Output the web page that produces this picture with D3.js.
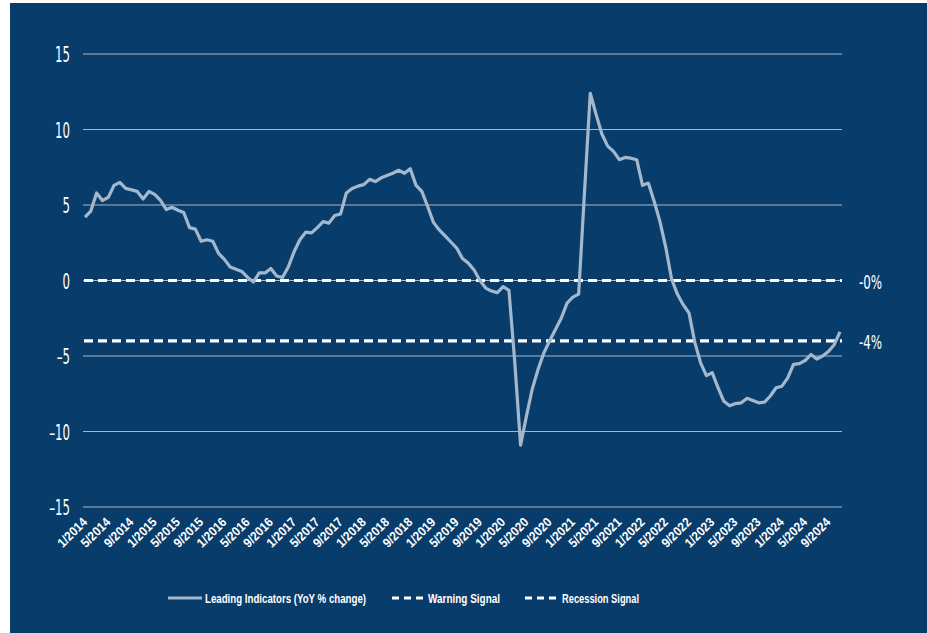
<!DOCTYPE html>
<html>
<head>
<meta charset="utf-8">
<script src="https://cdn.jsdelivr.net/npm/d3@7"></script>
<style>
  body { margin: 0; background: #fff; }
</style>
</head>
<body>
<script>
  // Leading indicators, year on year % change, monthly 1/2014 .. 11/2024
  var leading = [
    4.2, 4.6, 5.8, 5.3, 5.5, 6.3, 6.5, 6.1, 6.0, 5.9, 5.4, 5.9,
    5.7, 5.3, 4.7, 4.85, 4.65, 4.5, 3.5, 3.4, 2.6, 2.7, 2.6, 1.8,
    1.4, 0.9, 0.75, 0.6, 0.2, -0.1, 0.5, 0.5, 0.8, 0.3, 0.2, 0.9,
    1.9, 2.7, 3.2, 3.15, 3.5, 3.9, 3.8, 4.3, 4.4, 5.8, 6.1, 6.25,
    6.35, 6.7, 6.55, 6.8, 6.95, 7.1, 7.3, 7.1, 7.4, 6.3, 5.9, 4.9,
    3.85, 3.35, 2.95, 2.55, 2.15, 1.45, 1.15, 0.7, 0.0, -0.5, -0.7, -0.8,
    -0.4, -0.65, -5.4, -10.9, -9.0, -7.2, -5.9, -4.8, -4.0, -3.25, -2.5, -1.5,
    -1.1, -0.9, 5.8, 12.4, 11.0, 9.7, 8.9, 8.55, 8.0, 8.15, 8.1, 8.0,
    6.3, 6.45, 5.25, 3.9, 2.2, 0.1, -0.9, -1.6, -2.15, -4.1, -5.45, -6.3,
    -6.1, -7.1, -8.0, -8.3, -8.15, -8.1, -7.8, -7.95, -8.1, -8.05, -7.65, -7.1,
    -7.0, -6.45, -5.55, -5.5, -5.3, -4.9, -5.2, -5.0, -4.7, -4.25, -3.4
  ];
  var warning = 0;
  var recession = -4;
  var yTicks = [-15, -10, -5, 0, 5, 10, 15];
  var signalLabels = ["-0%", "-4%"];
  var legendNames = ["Leading Indicators (YoY % change)", "Warning Signal", "Recession Signal"];

  var months = leading.map(function(d, i) {
    return ((i % 12) + 1) + "/" + (2014 + Math.floor(i / 12));
  });
  var tickMonths = months.filter(function(d, i) { return i % 4 == 0; });

  var W = 927, H = 633;
  var bg = "#083c6b";
  var lineColor = "#a3b8cc";
  var condensed = "'DejaVu Sans Condensed', 'Liberation Sans', sans-serif";

  var svg = d3.select("body").append("svg")
    .attr("width", W)
    .attr("height", H);

  svg.append("rect")
    .attr("x", 10).attr("y", 3)
    .attr("width", W - 10).attr("height", H - 3)
    .attr("fill", bg);

  var x = d3.scalePoint().domain(months).range([85, 840]);
  var y = d3.scaleLinear().domain([-15, 15]).range([507, 54]);

  // gridlines
  svg.append("g").selectAll("line")
    .data(yTicks)
    .enter().append("line")
    .attr("x1", 83).attr("x2", 842)
    .attr("y1", function(d) { return y(d); })
    .attr("y2", function(d) { return y(d); })
    .attr("stroke", "#a9b6c4")
    .attr("stroke-width", 1.2);

  // y labels (tall condensed look)
  svg.append("g").selectAll("text")
    .data(yTicks)
    .enter().append("text")
    .attr("transform", function(d) { return "translate(70," + (y(d) + 8) + ") scale(0.62,1)"; })
    .attr("text-anchor", "end")
    .attr("fill", "#fff")
    .style("font-family", condensed)
    .style("font-size", "21px")
    .text(function(d) { return d < 0 ? "\u2013" + Math.abs(d) : d; });

  // x labels
  svg.append("g").selectAll("text")
    .data(tickMonths)
    .enter().append("text")
    .attr("transform", function(d) { return "translate(" + (x(d) + 3) + ",523) rotate(-45) scale(0.9,1)"; })
    .attr("text-anchor", "end")
    .attr("fill", "#fff")
    .style("font-family", "'Liberation Sans', Arial, sans-serif")
    .style("font-weight", "bold")
    .style("font-size", "13px")
    .text(function(d) { return d; });

  // signal lines
  svg.append("g").selectAll("line")
    .data([warning, recession])
    .enter().append("line")
    .attr("x1", 84).attr("x2", 842)
    .attr("y1", function(d) { return y(d); })
    .attr("y2", function(d) { return y(d); })
    .attr("stroke", "#fff")
    .attr("stroke-width", 3.2)
    .attr("stroke-dasharray", "9,5");

  svg.append("g").selectAll("text")
    .data([warning, recession])
    .enter().append("text")
    .attr("transform", function(d) { return "translate(859," + (y(d) + 8) + ") scale(0.66,1)"; })
    .attr("fill", "#fff")
    .style("font-family", condensed)
    .style("font-size", "20px")
    .text(function(d, i) { return signalLabels[i]; });

  // leading indicators line
  var line = d3.line()
    .x(function(d, i) { return x(months[i]); })
    .y(function(d) { return y(d); });

  svg.append("path")
    .datum(leading)
    .attr("d", line)
    .attr("fill", "none")
    .attr("stroke", lineColor)
    .attr("stroke-width", 3.2)
    .attr("stroke-linejoin", "round");

  // legend
  var legend = [
    { name: legendNames[0], x: 168, len: 34, tx: 37, w: 161, dash: null, color: lineColor },
    { name: legendNames[1], x: 392, len: 31, tx: 36, w: 72, dash: "7,5", color: "#fff" },
    { name: legendNames[2], x: 525, len: 31, tx: 37, w: 77, dash: "7,5", color: "#fff" }
  ];
  var lg = svg.append("g").selectAll("g")
    .data(legend)
    .enter().append("g")
    .attr("transform", function(d) { return "translate(" + d.x + ",598)"; });

  lg.append("line")
    .attr("x1", 0).attr("x2", function(d) { return d.len; })
    .attr("y1", 0).attr("y2", 0)
    .attr("stroke", function(d) { return d.color; })
    .attr("stroke-width", 3)
    .attr("stroke-dasharray", function(d) { return d.dash; });

  lg.append("text")
    .attr("x", function(d) { return d.tx; })
    .attr("y", 4.5)
    .attr("fill", "#fff")
    .attr("textLength", function(d) { return d.w; })
    .attr("lengthAdjust", "spacingAndGlyphs")
    .style("font-family", "'Liberation Sans', sans-serif")
    .style("font-weight", "bold")
    .style("font-size", "12.5px")
    .text(function(d) { return d.name; });
</script>
</body>
</html>
